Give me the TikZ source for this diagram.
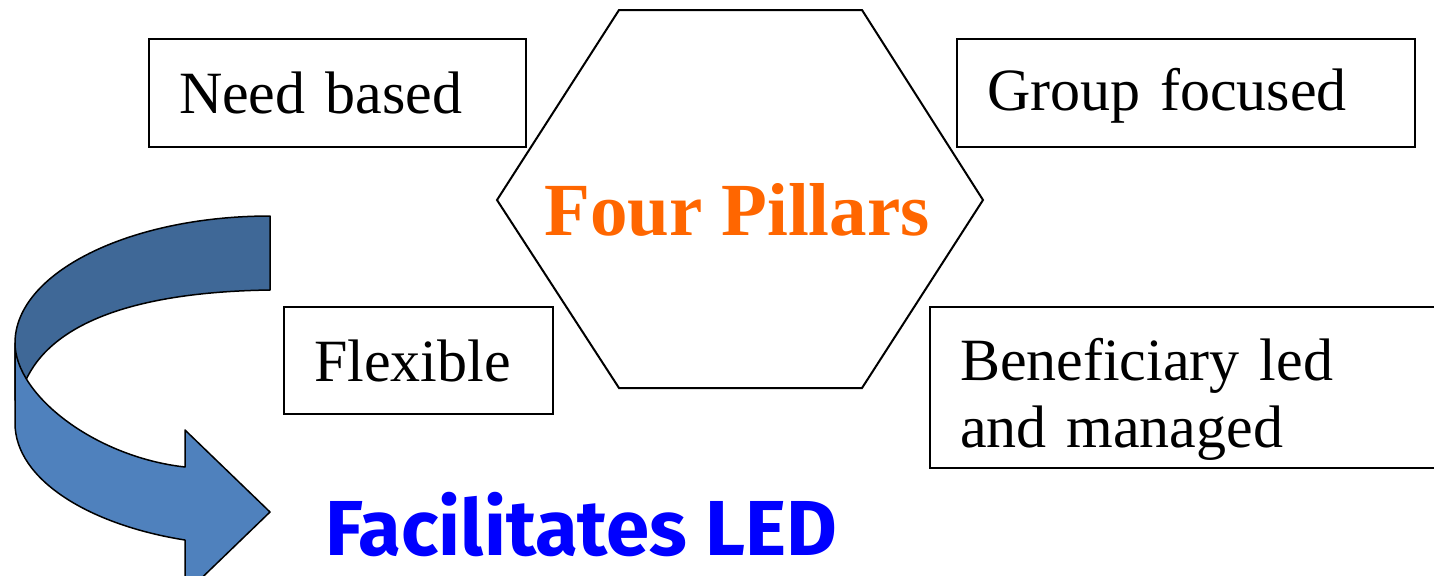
\documentclass[tikz,border=0pt]{standalone}
\usepackage{fontspec}
\setmainfont{Liberation Serif}
\newfontfamily\firasans{Fira Sans}
\usetikzlibrary{positioning}
\definecolor{ribbondark}{RGB}{63,104,151}
\definecolor{ribbonlight}{RGB}{79,129,189}
\definecolor{pillarorange}{RGB}{255,102,0}

\begin{document}
\begin{tikzpicture}[
  x=0.5pt,y=-0.5pt,
  box/.style={draw,line width=1pt,anchor=north west,align=left,
              inner xsep=15pt,inner ysep=0pt,
              font=\fontsize{30}{33.5}\selectfont},
  hexline/.style={draw,line width=1pt,line join=miter},
  ribbon/.style={draw=black,line width=0.75pt,line join=round},
  title/.style={font=\fontsize{37.5}{40}\selectfont\bfseries,
                text=pillarorange,anchor=base,inner sep=0pt},
  slogan/.style={font=\firasans\bfseries\fontsize{39}{41}\selectfont,
                 text=blue,anchor=base west,inner sep=0pt},
]
  \useasboundingbox (0,0) rectangle (1434,575);
  \clip (0,0) rectangle (1434,575);

  % curved arrow
  \draw[ribbon,fill=ribbondark] (270,216) .. controls (129,216) and (15,273) .. (15,343)
        -- (15,400) -- (25,382) .. controls (50,325) and (130,292) .. (270,290) -- cycle;
  \draw[ribbon,fill=ribbonlight] (15,343) .. controls (15,395) and (95,457) .. (185,467)
        -- (185,430) -- (270,512) -- (185,594) -- (185,540)
        .. controls (90,525) and (15,480) .. (15,423) -- cycle;

  % hexagon
  \coordinate (h1) at (619,10);
  \coordinate (h2) at (862,10);
  \coordinate (h3) at (983,200);
  \coordinate (h4) at (862,388);
  \coordinate (h5) at (619,388);
  \coordinate (h6) at (497,200);
  \draw[hexline] (h1) -- (h2) -- (h3) -- (h4) -- (h5) -- (h6) -- cycle;
  \node[title] (pillars) at (737,235) {Four Pillars};

  % the four boxes
  \node[box,minimum width=188.5pt,minimum height=54pt,text width=158.5pt]
        (need) at (148,38) {Need based};
  \node[box,minimum width=229pt,minimum height=54pt,text width=199pt]
        (group) at (956,38) {\rule{0pt}{23.5pt}Group focused};
  \node[box,minimum width=134.5pt,minimum height=53.5pt,text width=104.5pt]
        (flex) at (283,306) {Flexible};
  \node[box,minimum width=270pt,minimum height=80.5pt,text width=240pt]
        (benef) at (929,306) {\rule{0pt}{32.5pt}Beneficiary led\\and managed};

  \node[slogan] (led) at (325,555) {Facilitates LED};
\end{tikzpicture}
\end{document}
